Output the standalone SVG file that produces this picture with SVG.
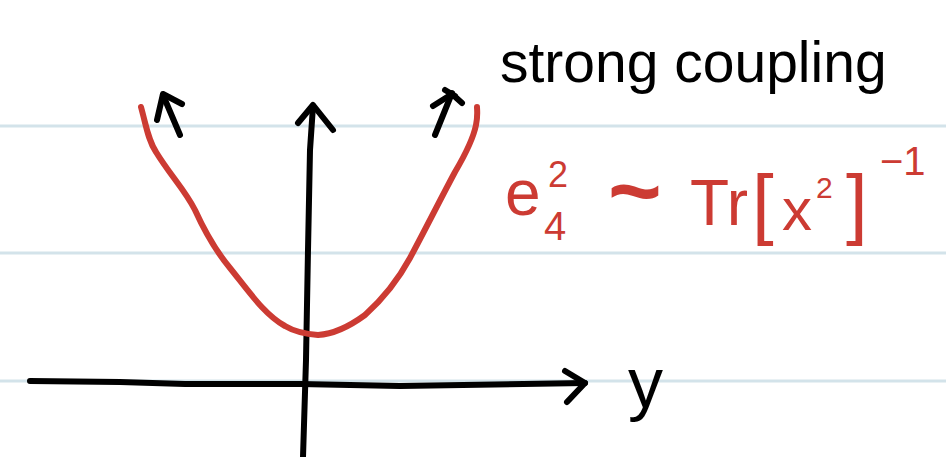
<svg xmlns="http://www.w3.org/2000/svg" width="946" height="457" viewBox="0 0 946 457">
<style>
.rule{stroke:#d3e3ea;stroke-width:3;fill:none}
.ink{stroke:#000;stroke-width:6;fill:none;stroke-linecap:round;stroke-linejoin:round}
.red{stroke:#cc3b33;stroke-width:6;fill:none;stroke-linecap:round;stroke-linejoin:round}
.t{font-family:"Liberation Sans",Arial,sans-serif;fill:#000}
.r{font-family:"Liberation Sans",Arial,sans-serif;fill:#cc3b33}
</style>
<rect width="946" height="457" fill="#fff"/>
<g id="rules">
<line class="rule" x1="0" y1="126" x2="946" y2="126"/>
<line class="rule" x1="0" y1="253" x2="946" y2="253"/>
<line class="rule" x1="0" y1="381" x2="946" y2="381"/>
</g>
<g id="axes">
<path class="ink" d="M303,457 L306,360 L308,250 L310,150 L313,106"/>
<path class="ink" d="M298,123 L313,105 L333,130"/>
<path class="ink" d="M30,381 L120,382 L185,384 L300,384 L400,386 L585,383"/>
<path class="ink" d="M565,371 L585,383 L567,402"/>
</g>
<g id="curve">
<path class="red" d="M141,107 C146,125 148,140 156,152 C170,175 185,190 195,210 C205,232 215,250 230,268 C250,293 265,315 285,326 C295,332 305,334 318,335 C335,334 350,326 365,315 C385,297 398,280 410,258 C425,230 440,200 455,172 C465,155 473,140 476,125 C478,115 477,110 477,107"/>
</g>
<g id="arrows">
<path class="ink" d="M180,135 L163,95"/>
<path class="ink" d="M157,120 L163,94 L182,104"/>
<path class="ink" d="M435,135 L452,93"/>
<path class="ink" d="M433,106 L452,94 L462,103"/>
<path class="ink" d="M445,90 L455,96"/>
</g>
<g id="labels">
<text class="t" x="500" y="82" font-size="57">strong coupling</text>
<text class="t" x="628" y="407" font-size="70">y</text>
<g id="formula">
<text class="r" x="505" y="215" font-size="64">e</text>
<text class="r" x="544" y="240" font-size="40">4</text>
<text class="r" x="548" y="187" font-size="36">2</text>
<text class="r" x="608" y="222" font-size="92" font-weight="bold">~</text>
<text class="r" x="690" y="225" font-size="64">Tr</text>
<text class="r" x="752" y="230" font-size="78">[</text>
<text class="r" x="782" y="230" font-size="60">x</text>
<text class="r" x="816" y="198" font-size="30">2</text>
<text class="r" x="846" y="230" font-size="78">]</text>
<text class="r" x="880" y="175" font-size="40">−1</text>
</g>
</g>
</svg>
